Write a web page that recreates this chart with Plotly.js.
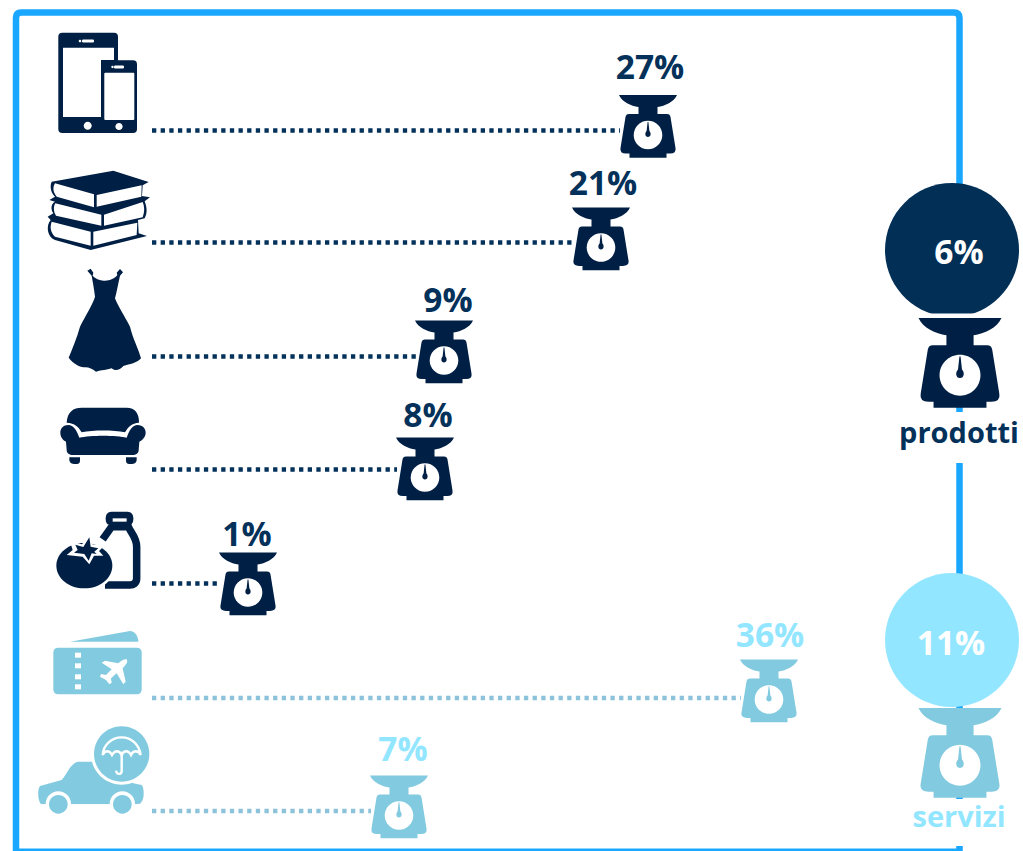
<!DOCTYPE html>
<html>
<head>
<meta charset="utf-8">
<script src="https://cdn.plot.ly/plotly-3.0.1.min.js"></script>
<style>html,body{margin:0;padding:0;background:#fff}#chart{width:1023px;height:851px}</style>
</head>
<body>
<div id="chart"></div>
<script>
// Per-category shares
const categories = ['Elettronica', 'Libri', 'Abbigliamento', 'Arredamento', 'Alimentari', 'Viaggi', 'Assicurazioni'];
const shares = [27, 21, 9, 8, 1, 36, 7];
const groups = ['prodotti', 'prodotti', 'prodotti', 'prodotti', 'prodotti', 'servizi', 'servizi'];

// Group totals
const groupNames = ['prodotti', 'servizi'];
const groupShares = [6, 11];

// Horizontal scale: non-linear mapping from a share to the axis
const scaleShare = [1, 7, 8, 9, 21, 27, 36];
const scaleAxis = [248, 399, 425, 444, 601, 648, 769];
function shareToX(v) {
  for (let i = 0; i < scaleShare.length - 1; i++) {
    if (v <= scaleShare[i + 1]) {
      const t = (v - scaleShare[i]) / (scaleShare[i + 1] - scaleShare[i]);
      return scaleAxis[i] + t * (scaleAxis[i + 1] - scaleAxis[i]);
    }
  }
  return scaleAxis[scaleAxis.length - 1];
}

// Row placement
const rowY = [130.5, 242.5, 356.5, 469.5, 583.5, 698, 811];
const weighTop = [95, 207.5, 320.5, 437.5, 552.5, 659.5, 775.5];
const labelY = [71, 187, 304, 419, 538, 639, 753];
const labelDx = [2, 2, 4, 3, -1, 1, 4];
const leaderStart = 152;
const leaderGap = 28;

const DARK = '#001F45', LIGHT = '#82CADF';
const TEXT_DARK = '#03315A', TEXT_LIGHT = '#93E6FF';
const DOT_DARK = '#03315A', DOT_LIGHT = '#8CC2DA';
const FRAME = '#1AA7FF', NAVY_DISC = '#022F56', SKY_DISC = '#93E6FF';
const colourOf = g => g === 'prodotti' ? DARK : LIGHT;
const textOf = g => g === 'prodotti' ? TEXT_DARK : TEXT_LIGHT;

const shapes = [];
function add(path, fill, extra) {
  shapes.push(Object.assign({
    type: 'path', xref: 'x', yref: 'y', layer: 'below', path: path,
    fillcolor: fill, line: { width: 0 }
  }, extra || {}));
}
function stroke(path, colour, width) {
  shapes.push({
    type: 'path', xref: 'x', yref: 'y', layer: 'below', path: path,
    fillcolor: 'rgba(0,0,0,0)', line: { width: width, color: colour }
  });
}
function ellipse(cx, cy, rx, ry) {
  const k = 0.5523, a = rx * k, b = ry * k;
  return `M${cx - rx} ${cy} C${cx - rx} ${cy - b} ${cx - a} ${cy - ry} ${cx} ${cy - ry} ` +
    `C${cx + a} ${cy - ry} ${cx + rx} ${cy - b} ${cx + rx} ${cy} ` +
    `C${cx + rx} ${cy + b} ${cx + a} ${cy + ry} ${cx} ${cy + ry} ` +
    `C${cx - a} ${cy + ry} ${cx - rx} ${cy + b} ${cx - rx} ${cy} Z`;
}
function roundRect(x0, y0, x1, y1, r) {
  return `M${x0 + r} ${y0} L${x1 - r} ${y0} Q${x1} ${y0} ${x1} ${y0 + r} L${x1} ${y1 - r} Q${x1} ${y1} ${x1 - r} ${y1} ` +
    `L${x0 + r} ${y1} Q${x0} ${y1} ${x0} ${y1 - r} L${x0} ${y0 + r} Q${x0} ${y0} ${x0 + r} ${y0} Z`;
}
// Moves a path drawn in 3x icon space to chart coordinates
function place(path, ox, oy) {
  return path.replace(/(-?\d+(?:\.\d+)?)\s+(-?\d+(?:\.\d+)?)/g, (m, x, y) =>
    `${(ox + x / 3).toFixed(2)} ${(oy + y / 3).toFixed(2)}`);
}

// Kitchen scale drawn around (cx, top); s = 1 gives the row-sized marker
function weigh(cx, top, s, colour) {
  const X = d => cx + d * s, Y = d => top + d * s;
  add(`M${X(-29)} ${Y(0)} L${X(29)} ${Y(0)} C${X(26)} ${Y(7)} ${X(17)} ${Y(11)} ${X(9.5)} ${Y(12)} ` +
    `L${X(9.5)} ${Y(19)} L${X(19)} ${Y(19)} Q${X(22)} ${Y(19)} ${X(22.5)} ${Y(22)} L${X(27.5)} ${Y(53)} ` +
    `Q${X(28.5)} ${Y(58.5)} ${X(22)} ${Y(58.5)} L${X(18.5)} ${Y(58.5)} L${X(18.5)} ${Y(62.7)} L${X(-18.5)} ${Y(62.7)} L${X(-18.5)} ${Y(58.5)} ` +
    `L${X(-22)} ${Y(58.5)} Q${X(-28.5)} ${Y(58.5)} ${X(-27.5)} ${Y(53)} L${X(-22.5)} ${Y(22)} Q${X(-22)} ${Y(19)} ${X(-19)} ${Y(19)} ` +
    `L${X(-9.5)} ${Y(19)} L${X(-9.5)} ${Y(12)} C${X(-17)} ${Y(11)} ${X(-26)} ${Y(7)} ${X(-29)} ${Y(0)} Z`, colour);
  add(ellipse(X(0), Y(40), 14.3 * s, 14.3 * s), '#ffffff');
  add(`M${X(-0.4)} ${Y(27)} L${X(0.4)} ${Y(27)} L${X(1.4)} ${Y(36)} C${X(3.4)} ${Y(38)} ${X(3)} ${Y(42)} ${X(0)} ${Y(42)} ` +
    `C${X(-3)} ${Y(42)} ${X(-3.4)} ${Y(38)} ${X(-1.4)} ${Y(36)} Z`, colour);
}

// Outer frame with the gaps beside the group totals
stroke('M16 853 L16 18 Q16 12.5 21 12.5 L954 12.5 Q959.5 12.5 959.5 18 L959.5 851.7 L16 851.7', FRAME, 6.5);
add('M950 313 L970 313 L970 318 L950 318 Z', '#ffffff');
add('M950 412 L970 412 L970 463 L950 463 Z', '#ffffff');
add('M950 799 L970 799 L970 846 L950 846 Z', '#ffffff');

// Phones
add(roundRect(58.3, 32.7, 118, 133, 4), DARK);
add('M63 47.7 L114 47.7 L114 60 L101 60 L101 117 L63 117 Z', '#ffffff');
add(roundRect(101.3, 60.3, 137, 133, 4), DARK);
add(roundRect(104.3, 72.7, 134.3, 120, 1), '#ffffff');
add(ellipse(87.7, 125.7, 4, 4), '#ffffff');
add(ellipse(119, 126.5, 3.6, 3.6), '#ffffff');
add(roundRect(82, 39.5, 94, 42.5, 1.2), '#ffffff');
add(ellipse(80, 41, 1.3, 1.3), '#ffffff');
add(roundRect(114, 65.5, 124, 68.5, 1.2), '#ffffff');
add(ellipse(112.5, 67, 1.2, 1.2), '#ffffff');

// Books
add(place('M340 512 L446 546 L428 556 L426 588 L450 592 L434 604 C442 625 442 640 434 655 L414 660 L416 700 L441 708 L272 750 L165 720 C140 710 138 675 152 660 L143 650 L160 640 C150 625 155 610 165 605 L148 600 L165 590 C150 575 150 555 155 545 Z', 0, 0), DARK);
add(place('M165 550 L282 583 L282 622 L170 590 C158 575 158 562 165 550 Z', 0, 0), '#ffffff');
add(place('M290 585 L425 556 L424 590 L290 620 Z', 0, 0), '#ffffff');
add(place('M166 610 L304 644 L304 677 L168 647 C160 635 160 620 166 610 Z', 0, 0), '#ffffff');
add(place('M312 644 L428 606 C434 620 434 635 428 652 L312 677 Z', 0, 0), '#ffffff');
add(place('M155 665 L272 695 L272 737 L165 710 C150 695 150 680 155 665 Z', 0, 0), '#ffffff');
add(place('M280 695 L412 668 L410 705 L280 737 Z', 0, 0), '#ffffff');

// Dress
add(place('M172 32 L182 26 L190 38 L188 47 C200 60 215 62 225 62 C240 62 255 55 262 45 L260 38 L270 27 L279 37 L270 47 C265 70 260 95 255 115 C262 135 285 170 300 200 C310 240 325 265 333 295 C320 310 300 312 280 318 C270 330 255 335 245 325 C230 330 215 330 198 335 C185 325 175 320 160 322 C140 318 125 305 116 293 C128 265 140 235 150 200 C165 170 190 130 195 110 C192 85 188 65 185 47 Z', 30, 260), DARK);

// Sofa
add(place('M110 488 C112 455 130 443 155 443 L290 443 C315 443 328 460 327 488 C305 490 295 500 285 517 C250 510 190 510 155 517 C145 500 135 490 110 488 Z', 30, 260), DARK);
add(place('M115 495 C130 495 140 510 148 533 C180 525 260 525 290 533 C298 510 308 495 322 495 C340 495 347 508 347 518 C347 530 338 540 328 545 L326 570 C326 580 318 585 308 585 L130 585 C118 585 110 580 110 570 L108 545 C98 540 91 530 91 518 C91 505 100 495 115 495 Z', 30, 260), DARK);
add(place('M118 592 L150 592 L150 602 C150 610 145 612 135 612 C125 612 120 610 118 600 Z', 30, 260), DARK);
add(place('M288 592 L320 592 L320 600 C318 610 313 612 303 612 C293 612 288 610 288 602 Z', 30, 260), DARK);

// Tomato and bottle
stroke(place('M218 118 L245 80 L295 80 C300 95 320 112 320 140 L320 235 C320 250 310 255 300 255 L225 255', 30, 500), DARK, 7.5);
add(place('M245 35 L292 35 C305 35 310 45 310 55 C310 70 305 75 295 75 L242 75 C232 75 227 70 227 55 C227 45 232 35 245 35 Z', 30, 500), DARK);
add(place('M248 55 L290 55 L290 65 L248 65 Z', 30, 500), '#ffffff');
add(place(ellipse(163, 197, 92, 76), 30, 500), '#ffffff');
add(place(ellipse(163, 197, 84, 68), 30, 500), DARK);
add(place('M175 118 L187 133 L222 138 L207 153 L220 167 L192 167 L178 193 L158 170 L110 165 L128 150 L120 124 L155 133 Z', 30, 500), '#ffffff');
add(place('M178 112 L182 140 L205 145 L193 155 L200 162 L185 160 L176 182 L163 162 L132 158 L143 150 L136 134 L160 141 Z', 30, 500), DARK);

// Ticket
add(place(roundRect(70, 443, 335, 583, 15), 30, 500), LIGHT);
add(place('M120 425 L300 393 C315 393 325 410 325 425 Z', 30, 500), LIGHT);
[458, 490, 523, 553].forEach(y => add(place(`M135 ${y} L153 ${y} L153 ${y + 15} L135 ${y + 15} Z`, 30, 500), '#ffffff'));
add(place('M290 478 C285 476 275 480 265 490 L225 482 L215 488 L245 508 L228 525 L213 522 L210 530 L228 540 L238 553 L245 548 L243 535 L260 520 L280 553 L287 545 L278 505 C288 495 295 485 290 478 Z', 30, 500), '#ffffff');

// Car with umbrella badge
add(place('M60 228 L125 210 C140 195 150 160 175 155 L250 155 L340 220 L365 225 C372 230 376 270 360 281 L340 283 L78 283 L65 283 C55 280 50 240 60 228 Z', 20, 710), LIGHT);
add(place(ellipse(115, 282, 38, 38), 20, 710), '#ffffff');
add(place(ellipse(307, 282, 38, 38), 20, 710), '#ffffff');
add(place('M60 283 L360 283 L360 300 L60 300 Z', 20, 710), '#ffffff');
add(place(ellipse(115, 283, 28, 28), 20, 710), LIGHT);
add(place(ellipse(307, 283, 28, 28), 20, 710), LIGHT);
add(place(ellipse(305, 132, 92, 92), 20, 710), '#ffffff');
add(place(ellipse(305, 132, 83, 83), 20, 710), LIGHT);
stroke(place('M248 135 C250 105 275 82 305 82 C335 82 358 105 362 135 C355 120 340 120 333 135 C325 120 312 120 305 135 C297 120 285 120 276 135 C268 120 255 120 248 135 Z', 20, 710), '#ffffff', 2.4);
stroke(place('M305 125 L305 182 C305 195 290 195 288 182', 20, 710), '#ffffff', 2.4);

// Group totals: disc above a large scale
add(ellipse(952, 250, 67, 67), NAVY_DISC);
add('M880 313.5 L1023 313.5 L1023 318 L880 318 Z', '#ffffff');
add(ellipse(952, 640, 67, 67), SKY_DISC);
weigh(960, 318, 1.43, DARK);
weigh(960, 708, 1.43, LIGHT);

// One scale per category
shares.forEach((v, i) => weigh(shareToX(v), weighTop[i], 1, colourOf(groups[i])));

// Dotted leader from the icon to the scale
const leaders = shares.map((v, i) => ({
  type: 'scatter', mode: 'lines', hoverinfo: 'skip', showlegend: false,
  name: categories[i],
  x: [leaderStart, shareToX(v) - leaderGap], y: [rowY[i], rowY[i]],
  line: { color: groups[i] === 'prodotti' ? DOT_DARK : DOT_LIGHT, width: 4.3, dash: '4.3px,4.35px' }
}));

const fontFamily = '"Open Sans", "DejaVu Sans", sans-serif';

const shareLabels = {
  type: 'scatter', mode: 'text', hoverinfo: 'skip', showlegend: false,
  x: shares.map((v, i) => shareToX(v) + labelDx[i]),
  y: labelY,
  text: shares.map(v => v + '%'),
  textposition: 'middle center',
  textfont: { family: fontFamily, size: 33.5, weight: 700, color: groups.map(textOf) }
};

const totalLabels = {
  type: 'scatter', mode: 'text', hoverinfo: 'skip', showlegend: false,
  x: [959, 951], y: [256, 647],
  text: groupShares.map(v => v + '%'),
  textposition: 'middle center',
  textfont: { family: fontFamily, size: 33.5, weight: 700, color: '#ffffff' }
};

const groupLabels = {
  type: 'scatter', mode: 'text', hoverinfo: 'skip', showlegend: false,
  x: [959, 959], y: [436, 820],
  text: groupNames,
  textposition: 'middle center',
  textfont: { family: fontFamily, size: 29, weight: 700, color: groupNames.map(textOf) }
};

Plotly.newPlot('chart', leaders.concat([shareLabels, totalLabels, groupLabels]), {
  width: 1023, height: 851,
  margin: { l: 0, r: 0, t: 0, b: 0 },
  paper_bgcolor: '#ffffff', plot_bgcolor: '#ffffff',
  showlegend: false, hovermode: false,
  xaxis: { range: [0, 1023], visible: false, fixedrange: true },
  yaxis: { range: [851, 0], visible: false, fixedrange: true },
  shapes: shapes
}, { displayModeBar: false, staticPlot: true });
</script>
</body>
</html>
